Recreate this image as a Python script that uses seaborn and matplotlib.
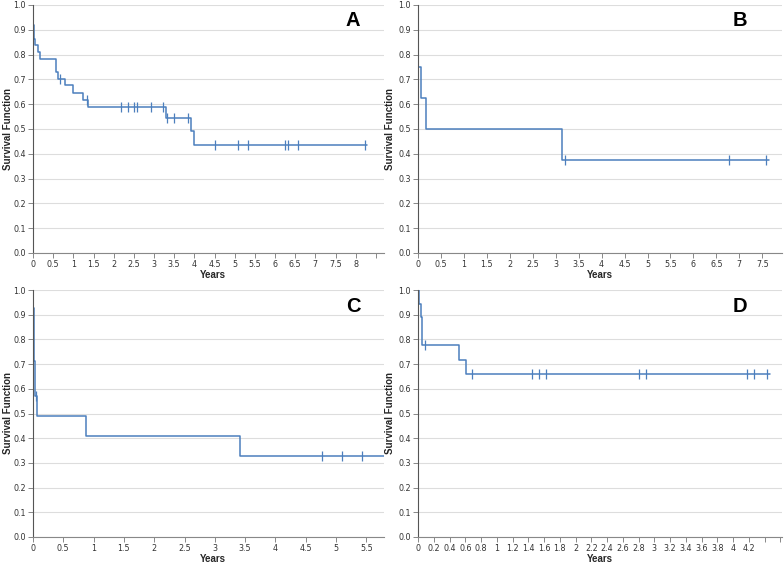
#!/usr/bin/env python3
import numpy as np
import pandas as pd
import matplotlib.pyplot as plt
import seaborn as sns

# step points (time in years, survival) and censor times for each panel
times_a = [0, 0.01, 0.02, 0.05, 0.12, 0.17, 0.58, 0.62, 0.79, 0.99, 1.24, 1.37, 3.30, 3.92, 4.00, 8.28]
surv_a = [1.0, 0.92, 0.863, 0.837, 0.811, 0.784, 0.730, 0.703, 0.676, 0.647, 0.618, 0.589, 0.546, 0.492, 0.437, 0.437]
cens_a = [0.66, 1.33, 2.17, 2.35, 2.51, 2.58, 2.92, 3.23, 3.33, 3.50, 3.83, 4.50, 5.09, 5.33, 6.25, 6.32, 6.58, 8.24]

times_b = [0, 0.0, 0.06, 0.17, 3.14, 7.64]
surv_b = [1.0, 0.75, 0.625, 0.5, 0.375, 0.375]
cens_b = [3.21, 6.77, 7.59]

times_c = [0, 0.005, 0.01, 0.015, 0.02, 0.025, 0.03, 0.06, 0.87, 3.42, 5.79]
surv_c = [1.0, 0.929, 0.857, 0.786, 0.714, 0.643, 0.571, 0.49, 0.408, 0.327, 0.327]
cens_c = [0.05, 4.76, 5.09, 5.42]

times_d = [0, 0.01, 0.034, 0.045, 0.055, 0.52, 0.61, 4.47]
surv_d = [1.0, 0.944, 0.889, 0.833, 0.778, 0.718, 0.658, 0.658]
cens_d = [0.085, 0.685, 1.45, 1.535, 1.62, 2.81, 2.90, 4.18, 4.26, 4.43]

panels = ['A', 'B', 'C', 'D']
xmax = [8.7, 7.93, 5.79, 4.62]
xstep = [0.5, 0.5, 0.5, 0.2]
xlast = [8.0, 7.5, 5.5, 4.2]

sns.set_theme(style="white")
plt.rcParams['font.family'] = ['DejaVu Sans']

W, H = 784, 567
fig = plt.figure(figsize=(W / 100, H / 100), dpi=100)

# axes boxes in pixels: left, top, right, bottom
boxes = [(33, 5, 384, 253), (418, 5, 782, 253), (33, 290, 384, 537), (418, 290, 782, 537)]
data = [(times_a, surv_a, cens_a), (times_b, surv_b, cens_b),
        (times_c, surv_c, cens_c), (times_d, surv_d, cens_d)]

blue = "#4c7fbd"
for i, (l, t, r, b) in enumerate(boxes):
    ax = fig.add_axes([l / W, 1 - b / H, (r - l) / W, (b - t) / H])
    tt, ss, cc = data[i]
    df = pd.DataFrame({'time': tt, 'surv': ss})
    sns.lineplot(data=df, x='time', y='surv', ax=ax, estimator=None, sort=False,
                 drawstyle='steps-post', color=blue, linewidth=1.1)
    # censor marks sit on the curve
    idx = np.searchsorted(np.array(tt), np.array(cc), side='right') - 1
    cdf = pd.DataFrame({'time': cc, 'surv': np.array(ss)[idx]})
    sns.scatterplot(data=cdf, x='time', y='surv', ax=ax, marker='|', s=45,
                    color=blue, linewidth=0.9, zorder=3)

    ax.set_xlim(0, xmax[i])
    ax.set_ylim(0, 1.0)
    ticks = np.round(np.arange(0, xmax[i] + 1e-9, xstep[i]), 2)
    ax.set_xticks(ticks)
    ax.set_xticklabels(['%g' % v if v <= xlast[i] + 1e-9 else '' for v in ticks])
    ax.set_yticks(np.round(np.arange(0, 1.01, 0.1), 1))
    ax.set_yticklabels(['%.1f' % v for v in np.arange(0, 1.01, 0.1)])
    ax.grid(axis='y', color='#dddddd', linewidth=0.8)
    ax.grid(axis='x', visible=False)
    ax.set_axisbelow(True)
    for s in ['top', 'right']:
        ax.spines[s].set_visible(False)
    for s in ['left', 'bottom']:
        ax.spines[s].set_color('#888888')
        ax.spines[s].set_linewidth(0.8)
    ax.spines['left'].set_color('#555555')
    ax.tick_params(axis='both', length=3.6, width=0.7, color='#888888',
                   labelsize=5.8, labelcolor='#333333', pad=1.5)
    ax.tick_params(axis='both', which='both', left=True, bottom=True)

    ax.set_xlabel('Years', fontsize=7, fontweight='bold', family='Liberation Sans')
    ax.set_ylabel('Survival Function', fontsize=7, fontweight='bold', family='Liberation Sans')
    ax.xaxis.set_label_coords((213 - l) / (r - l) if i % 2 == 0 else 0.5, -22 / (b - t))
    ax.yaxis.set_label_coords((8 - l) / (r - l) if i % 2 == 0 else (390 - l) / (r - l), 0.5)
    ax.xaxis.label.set_verticalalignment('center')
    ax.yaxis.label.set_verticalalignment('center')

    lx = 353 if i % 2 == 0 else 740
    ax.text((lx - l) / (r - l), 1 - 16 / (b - t), panels[i], transform=ax.transAxes,
            ha='center', va='center', fontsize=14.5, fontweight='bold',
            family='Liberation Sans', color='black')

plt.savefig('out.png', dpi=100)
